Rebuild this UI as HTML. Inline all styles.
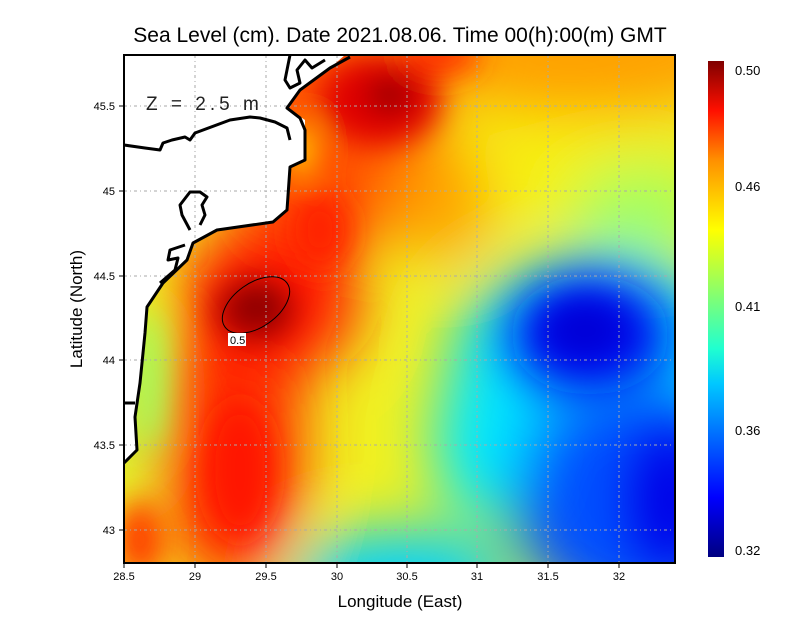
<!DOCTYPE html>
<html><head><meta charset="utf-8"><style>
html,body{margin:0;padding:0;background:#fff;}
svg{display:block;font-family:"Liberation Sans",sans-serif;}
</style></head><body>
<svg width="800" height="618" viewBox="0 0 800 618" xmlns="http://www.w3.org/2000/svg">
<defs>
<clipPath id="pc"><rect x="124" y="55" width="551" height="508"/></clipPath>
<filter id="b1" x="-100" y="-100" width="1000" height="800" filterUnits="userSpaceOnUse"><feGaussianBlur stdDeviation="30"/></filter>
<filter id="b2" x="-100" y="-100" width="1000" height="800" filterUnits="userSpaceOnUse"><feGaussianBlur stdDeviation="15"/></filter>
<filter id="b3" x="-100" y="-100" width="1000" height="800" filterUnits="userSpaceOnUse"><feGaussianBlur stdDeviation="24"/></filter>
<linearGradient id="cb" x1="0" y1="1" x2="0" y2="0">
<stop offset="0" stop-color="#000080"/>
<stop offset="0.12" stop-color="#0000ff"/>
<stop offset="0.35" stop-color="#00c8ff"/>
<stop offset="0.42" stop-color="#20ffd0"/>
<stop offset="0.6" stop-color="#c8ff30"/>
<stop offset="0.66" stop-color="#ffff00"/>
<stop offset="0.8" stop-color="#ff9000"/>
<stop offset="0.9" stop-color="#ff1000"/>
<stop offset="1" stop-color="#800000"/>
</linearGradient>
</defs>
<text x="400" y="42" text-anchor="middle" font-size="21" fill="#000">Sea Level (cm). Date 2021.08.06. Time 00(h):00(m) GMT</text>
<g clip-path="url(#pc)">
<rect x="124" y="55" width="551" height="508" fill="#f0f020"/>
<g filter="url(#b1)">
<rect x="60" y="0" width="680" height="40" fill="#ff9800"/>
<ellipse cx="580" cy="60" rx="170" ry="55" fill="#ffa000"/>
<ellipse cx="560" cy="165" rx="110" ry="40" fill="#f8f010"/>
<ellipse cx="640" cy="210" rx="70" ry="45" fill="#a0ff60"/>
<ellipse cx="600" cy="360" rx="150" ry="105" fill="#00d8ff"/>
<ellipse cx="640" cy="500" rx="130" ry="120" fill="#0050ff"/>
<ellipse cx="400" cy="580" rx="110" ry="50" fill="#00d0ff"/>
<ellipse cx="480" cy="440" rx="45" ry="80" fill="#00e8ff"/>
<ellipse cx="330" cy="140" rx="110" ry="110" fill="#ff5000"/>
<ellipse cx="440" cy="200" rx="50" ry="60" fill="#ffa000"/>
<ellipse cx="230" cy="440" rx="75" ry="150" fill="#ff3000"/>
<ellipse cx="270" cy="300" rx="90" ry="80" fill="#ff1800"/>
<ellipse cx="130" cy="400" rx="25" ry="90" fill="#c0ff40"/>
</g>
<g filter="url(#b3)">
<ellipse cx="590" cy="335" rx="80" ry="60" fill="#0010f0"/>
<ellipse cx="670" cy="500" rx="40" ry="70" fill="#0000e8"/>
</g>
<g filter="url(#b2)">
<ellipse cx="585" cy="330" rx="40" ry="28" fill="#0000d8"/>
<ellipse cx="380" cy="100" rx="60" ry="45" fill="#e00000"/>
<ellipse cx="390" cy="95" rx="22" ry="18" fill="#900000"/>
<ellipse cx="440" cy="55" rx="40" ry="20" fill="#ff3000"/>
<ellipse cx="320" cy="230" rx="30" ry="40" fill="#ff2000"/>
<ellipse cx="240" cy="470" rx="35" ry="70" fill="#ff1800"/>
<ellipse cx="150" cy="380" rx="14" ry="70" fill="#a0ff60"/>
<ellipse cx="140" cy="540" rx="25" ry="40" fill="#ff4000"/>
<ellipse cx="255" cy="310" rx="40" ry="32" fill="#a80000"/>
<ellipse cx="258" cy="305" rx="20" ry="16" fill="#800000"/>
<ellipse cx="300" cy="150" rx="14" ry="26" fill="#ffe000"/>
</g>
<path d="M124,55 L345,55 L330,68 L300,90 L287,108 L305,120 L305,160 L290,167 L287,210 L273,222 L217,230 L193,243 L187,260 L163,283 L147,307 L145,333 L140,383 L135,417 L137,450 L124,463 Z" fill="#fff"/>
</g>
<g stroke="#aaa" stroke-width="1" stroke-dasharray="3,3,1,3" fill="none">
<path d="M195,55V563M266,55V563M337,55V563M407,55V563M477,55V563M548,55V563M619,55V563"/>
<path d="M124,106H675M124,191H675M124,276H675M124,360H675M124,445H675M124,530H675"/>
</g>
<g fill="none" stroke="#000" stroke-width="3" stroke-linejoin="round">
<path d="M350,57 L330,68 L300,90 L287,108 L300,118 L305,130 L305,160 L290,167 L287,210 L273,222 L217,230 L193,243 L187,260 L163,283 L147,307 L145,333 L140,383 L135,417 L137,450 L124,463"/>
<path d="M124,145 L145,148 L160,150 L163,143 L172,140 L185,137 L190,140 L195,133 L230,120 L250,117 L260,118 L275,122 L287,128 L290,140"/>
<path d="M290,55 L285,80 L290,88 L300,83 L297,70 L305,60 L312,68 L325,60"/>
<path d="M190,230 L182,215 L180,205 L190,192 L200,192 L207,197 L202,205 L205,215 L200,225"/>
<path d="M185,245 L170,250 L168,260 L178,258 L175,270 L160,283"/>
<path d="M124,403 L135,403"/>
</g>
<ellipse cx="256" cy="305" rx="38" ry="22" transform="rotate(-35 256 305)" fill="none" stroke="#000" stroke-width="1"/>
<rect x="228" y="333" width="18" height="13" fill="#fff"/>
<text x="230" y="344" font-size="11" fill="#000">0.5</text>
<text x="146" y="110" font-size="19" fill="#222" letter-spacing="4">Z = 2.5 m</text>
<rect x="124" y="55" width="551" height="508" fill="none" stroke="#000" stroke-width="2"/>
<g stroke="#000" stroke-width="1">
<path d="M124,563v5M195,563v5M266,563v5M337,563v5M407,563v5M477,563v5M548,563v5M619,563v5"/>
<path d="M119,106h5M119,191h5M119,276h5M119,360h5M119,445h5M119,530h5"/>
</g>
<g font-size="11" fill="#000" text-anchor="middle">
<text x="124" y="580">28.5</text><text x="195" y="580">29</text><text x="266" y="580">29.5</text><text x="337" y="580">30</text><text x="407" y="580">30.5</text><text x="477" y="580">31</text><text x="548" y="580">31.5</text><text x="619" y="580">32</text>
</g>
<g font-size="11" fill="#000" text-anchor="end">
<text x="115" y="110">45.5</text><text x="115" y="195">45</text><text x="115" y="280">44.5</text><text x="115" y="364">44</text><text x="115" y="449">43.5</text><text x="115" y="534">43</text>
</g>
<text x="400" y="607" text-anchor="middle" font-size="17">Longitude (East)</text>
<text x="82" y="309" text-anchor="middle" font-size="17" transform="rotate(-90 82 309)">Latitude (North)</text>
<rect x="708" y="61" width="16" height="496" fill="url(#cb)"/>
<g font-size="13" fill="#000">
<text x="735" y="75">0.50</text><text x="735" y="191">0.46</text><text x="735" y="311">0.41</text><text x="735" y="435">0.36</text><text x="735" y="555">0.32</text>
</g>
</svg>
</body></html>
